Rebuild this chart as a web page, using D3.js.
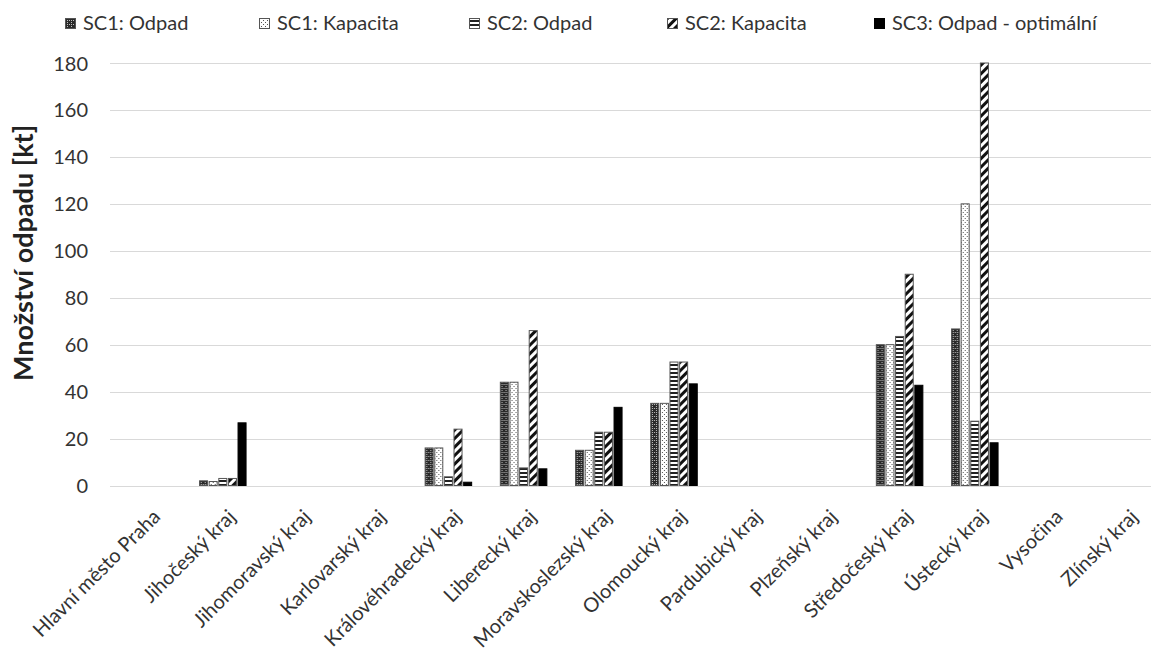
<!DOCTYPE html>
<html>
<head>
<meta charset="utf-8">
<script src="https://cdn.jsdelivr.net/npm/d3@7"></script>
<style>
  body { margin: 0; background: #fff; }
  svg { display: block; }
  text { font-family: Lato, "Open Sans", sans-serif; }
</style>
</head>
<body>
<svg id="chart" width="1151" height="654"></svg>
<script>
// Regions (kraje) on the category axis
const regions = [
  "Hlavní město Praha", "Jihočeský kraj", "Jihomoravský kraj", "Karlovarský kraj",
  "Královéhradecký kraj", "Liberecký kraj", "Moravskoslezský kraj", "Olomoucký kraj",
  "Pardubický kraj", "Plzeňský kraj", "Středočeský kraj", "Ústecký kraj",
  "Vysočina", "Zlínský kraj"
];

const seriesNames = ["SC1: Odpad", "SC1: Kapacita", "SC2: Odpad", "SC2: Kapacita", "SC3: Odpad - optimální"];

// Amount of waste / capacity per region [kt]
const sc1Odpad    = [0, 2.0, 0, 0, 16.0, 44.0, 15.0, 35.0, 0, 0, 60.0,  66.7, 0, 0];
const sc1Kapacita = [0, 1.7, 0, 0, 16.0, 44.0, 15.0, 35.0, 0, 0, 60.0, 120.0, 0, 0];
const sc2Odpad    = [0, 3.0, 0, 0,  3.7,  7.5, 22.7, 52.6, 0, 0, 63.5,  27.4, 0, 0];
const sc2Kapacita = [0, 3.0, 0, 0, 24.0, 66.0, 22.7, 52.6, 0, 0, 90.0, 180.0, 0, 0];
const sc3Odpad    = [0, 26.7, 0, 0, 1.4,  7.1, 33.3, 43.3, 0, 0, 42.7,  18.2, 0, 0];

const yTicks = [0, 20, 40, 60, 80, 100, 120, 140, 160, 180];
const yTitle = "Množství odpadu [kt]";

const seriesValues = [sc1Odpad, sc1Kapacita, sc2Odpad, sc2Kapacita, sc3Odpad];
const seriesFill = ["url(#pCheck)", "url(#pDots)", "url(#pHoriz)", "url(#pDiag)", "#000"];

const svg = d3.select("#chart");
const W = 1151, H = 654;
svg.append("rect").attr("width", W).attr("height", H).attr("fill", "#fff");

// ---- fill patterns ----
const defs = svg.append("defs");

const pCheck = defs.append("pattern").attr("id", "pCheck")
  .attr("patternUnits", "userSpaceOnUse").attr("width", 4).attr("height", 4);
pCheck.append("rect").attr("width", 4).attr("height", 4).attr("fill", "#2a2a2a");
[[0, 0], [2, 2], [2, 0]].forEach(([x, y]) =>
  pCheck.append("rect").attr("x", x).attr("y", y).attr("width", 1).attr("height", 1).attr("fill", "#bdbdbd"));

const pDots = defs.append("pattern").attr("id", "pDots")
  .attr("patternUnits", "userSpaceOnUse").attr("width", 4).attr("height", 4);
pDots.append("rect").attr("width", 4).attr("height", 4).attr("fill", "#fff");
[[0, 0], [2, 2]].forEach(([x, y]) =>
  pDots.append("rect").attr("x", x).attr("y", y).attr("width", 1).attr("height", 1).attr("fill", "#555"));

const pHoriz = defs.append("pattern").attr("id", "pHoriz")
  .attr("patternUnits", "userSpaceOnUse").attr("width", 4).attr("height", 4);
pHoriz.append("rect").attr("width", 4).attr("height", 4).attr("fill", "#fff");
pHoriz.append("rect").attr("width", 4).attr("height", 2).attr("fill", "#222");

const pDiag = defs.append("pattern").attr("id", "pDiag")
  .attr("patternUnits", "userSpaceOnUse").attr("width", 6).attr("height", 6)
  .attr("patternTransform", "rotate(45)");
pDiag.append("rect").attr("width", 6).attr("height", 6).attr("fill", "#fff");
pDiag.append("rect").attr("width", 3).attr("height", 6).attr("fill", "#111");

// ---- scales ----
const plotLeft = 110, step = 75.2;
const yBase = 485.5, yTop = 63;

const x = d3.scaleBand()
  .domain(regions)
  .range([plotLeft, plotLeft + step * regions.length])
  .paddingInner(0.36)
  .paddingOuter(0.18);

const xs = d3.scaleBand()
  .domain(seriesNames)
  .range([0, x.bandwidth()]);

const y = d3.scaleLinear().domain([0, 180]).range([yBase, yTop]);

// ---- gridlines ----
svg.append("g").selectAll("line").data(yTicks).join("line")
  .attr("x1", plotLeft).attr("x2", W)
  .attr("y1", d => Math.round(y(d)) + 0.5).attr("y2", d => Math.round(y(d)) + 0.5)
  .attr("stroke", "#d9d9d9").attr("stroke-width", 1);

// ---- y axis labels ----
const yAxis = d3.axisLeft(y).tickValues(yTicks).tickSize(0).tickPadding(0);
const yg = svg.append("g").attr("transform", `translate(88,0)`).call(yAxis);
yg.select(".domain").remove();
yg.selectAll("text")
  .attr("font-family", "Lato, 'Open Sans', sans-serif")
  .attr("font-size", 20).attr("fill", "#333").attr("dy", "0.35em");

// ---- bars ----
const groups = svg.append("g").selectAll("g")
  .data(regions).join("g")
  .attr("transform", d => `translate(${x(d)},0)`);

groups.selectAll("rect")
  .data((d, i) => seriesNames.map((s, k) => ({ s, k, v: seriesValues[k][i] })).filter(e => e.v > 0))
  .join("rect")
  .attr("x", e => xs(e.s) + 0.8)
  .attr("width", xs.bandwidth() - 1.6)
  .attr("y", e => y(e.v))
  .attr("height", e => y(0) - y(e.v))
  .attr("fill", e => seriesFill[e.k])
  .attr("stroke", e => e.k === 4 ? "#000" : "#555")
  .attr("stroke-width", 1);

// ---- category axis labels ----
const xAxis = d3.axisBottom(x).tickSize(0).tickPadding(0);
const xg = svg.append("g").call(xAxis);
xg.select(".domain").remove();
xg.selectAll(".tick").attr("transform", d => `translate(${x(d) + x.bandwidth() / 2 + 14},518)`);
xg.selectAll("text")
  .attr("font-family", "Lato, 'Open Sans', sans-serif")
  .attr("font-size", 20).attr("fill", "#333")
  .attr("text-anchor", "end")
  .attr("y", 0).attr("dy", 0)
  .attr("transform", "rotate(-45)");

// ---- y title ----
svg.append("text")
  .attr("transform", "translate(33,253) rotate(-90)")
  .attr("text-anchor", "middle")
  .attr("font-size", 27).attr("font-weight", "bold").attr("fill", "#222")
  .text(yTitle);

// ---- legend ----
const legendX = [65, 259, 469, 667, 874];
const legend = svg.append("g").selectAll("g").data(seriesNames).join("g")
  .attr("transform", (d, i) => `translate(${legendX[i]},0)`);
legend.append("rect")
  .attr("x", 0.5).attr("y", 18.5).attr("width", 10).attr("height", 10)
  .attr("fill", (d, i) => seriesFill[i])
  .attr("stroke", (d, i) => i === 4 ? "#000" : "#555").attr("stroke-width", 1);
legend.append("text")
  .attr("x", 18).attr("y", 30)
  .attr("font-size", 20).attr("fill", "#333")
  .text(d => d);
</script>
</body>
</html>
